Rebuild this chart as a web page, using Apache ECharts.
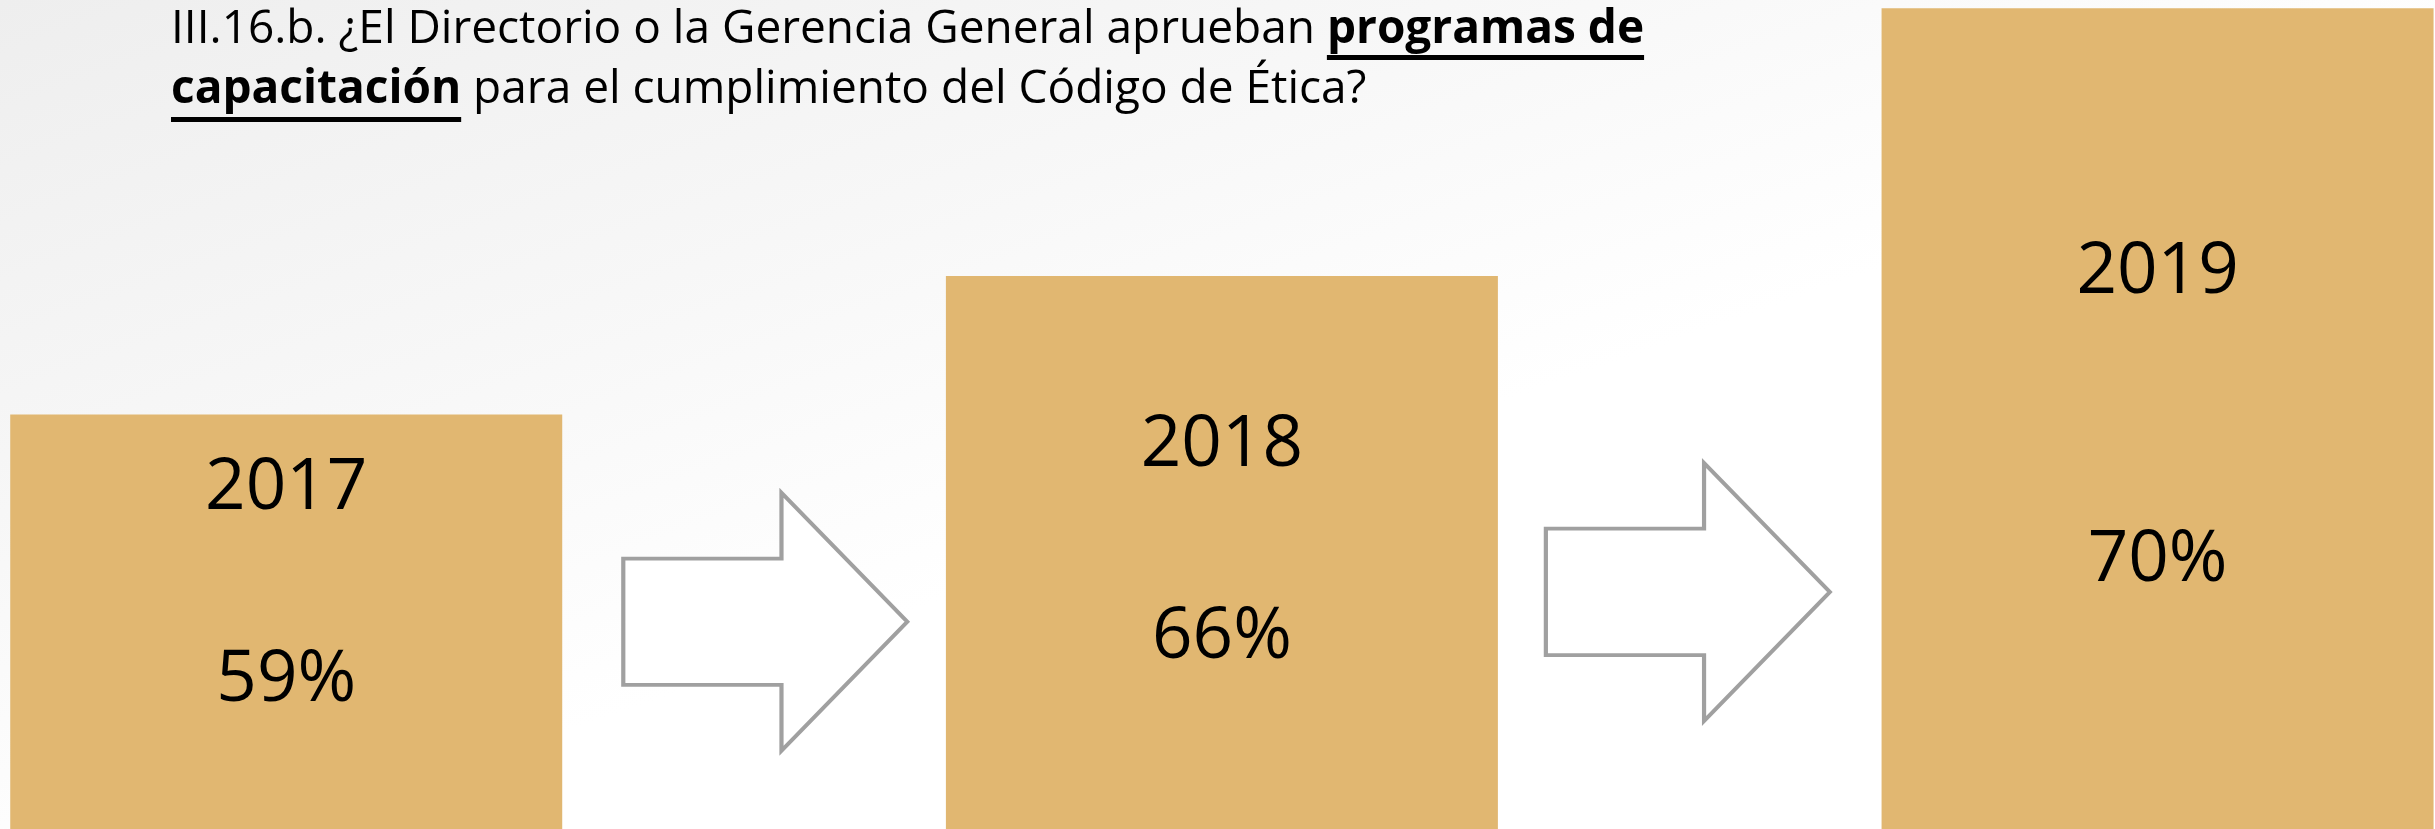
<!DOCTYPE html>
<html>
<head>
<meta charset="utf-8">
<script src="https://cdn.jsdelivr.net/npm/echarts@6/dist/echarts.min.js"></script>
<style>
  html, body { margin: 0; padding: 0; }
  #chart { width: 2435px; height: 829px; }
</style>
</head>
<body>
<div id="chart"></div>
<script>
// data
const years = ['2017', '2018', '2019']
const shares = [59, 66, 70]
// the blocks are a stepped infographic, not to scale: height of each block in % of the chart height
const stepLevels = [50, 66.7, 99]
// vertical level of the two arrows (same % scale)
const arrowLevels = [25, 28.6]

const titlePlain1 = 'III.16.b. ¿El Directorio o la Gerencia General aprueban '
const titleBold1 = 'programas de'
const titleBold2 = 'capacitación'
const titlePlain2 = ' para el cumplimiento del Código de Ética?'

// layout / style (not data)
const FONT = '"Open Sans", "Noto Sans", sans-serif'
const titleSize = 46
const titleLeft = 171
const titleLine = 60
const labelLayout = [
  { gap: 2, dy: -37 },
  { gap: 2, dy: -11 },
  { gap: 3, dy: -2 },
]
const arrowNudge = [0.012, -0.002]

const chart = echarts.init(document.getElementById('chart'))

// measure text so the underlines sit under the bold words
const ctx = document.createElement('canvas').getContext('2d')
const measure = (txt, bold) => {
  ctx.font = (bold ? 'bold ' : 'normal ') + titleSize + 'px ' + FONT
  return ctx.measureText(txt).width
}
const u1x = titleLeft + measure(titlePlain1, false)
const u1w = measure(titleBold1, true)
const u2w = measure(titleBold2, true)

const barData = stepLevels.map((v, i) => {
  const l = labelLayout[i]
  return {
    value: [i, v],
    label: {
      formatter: years[i] + '\n'.repeat(l.gap) + shares[i] + '%',
      offset: [0, l.dy],
    },
  }
})
const arrowData = arrowLevels.map((v, i) => [i + 0.5 + arrowNudge[i], v])

const arrowPath = 'path://M0,25.5 L55.7,25.5 L55.7,0 L100,50 L55.7,100 L55.7,74.5 L0,74.5 Z'

const option = {
  animation: false,
  backgroundColor: {
    type: 'linear', x: 0, y: 0, x2: 0.12, y2: 1,
    colorStops: [
      { offset: 0, color: '#eeeeee' },
      { offset: 0.55, color: '#f7f7f7' },
      { offset: 1, color: '#ffffff' },
    ],
  },
  title: {
    left: titleLeft,
    top: 0,
    padding: 0,
    text: '{n|' + titlePlain1 + '}{b|' + titleBold1 + '}\n{b|' + titleBold2 + '}{n|' + titlePlain2 + '}',
    textStyle: {
      fontWeight: 'normal',
      rich: {
        n: { fontFamily: FONT, fontSize: titleSize, fontWeight: 'normal', color: '#000', lineHeight: titleLine },
        b: { fontFamily: FONT, fontSize: titleSize, fontWeight: 'bold', color: '#000', lineHeight: titleLine },
      },
    },
  },
  graphic: [
    { type: 'rect', shape: { x: u1x, y: 55, width: u1w, height: 5 }, style: { fill: '#000' } },
    { type: 'rect', shape: { x: titleLeft, y: 117, width: u2w, height: 5 }, style: { fill: '#000' } },
  ],
  grid: { left: 0, right: 0, top: 0, bottom: 0 },
  xAxis: { type: 'value', min: -0.3059, max: 2.2965, show: false, splitLine: { show: false } },
  yAxis: { type: 'value', min: 0, max: 100, show: false, splitLine: { show: false } },
  series: [
    {
      type: 'bar',
      barWidth: 552,
      data: barData,
      itemStyle: { color: '#e1b771' },
      label: {
        show: true,
        position: 'inside',
        color: '#000',
        fontFamily: FONT,
        fontSize: 71,
        lineHeight: 96,
        align: 'center',
      },
      silent: true,
    },
    {
      type: 'scatter',
      data: arrowData,
      symbol: arrowPath,
      symbolSize: [284, 258],
      itemStyle: { color: '#ffffff', borderColor: '#a0a0a0', borderWidth: 4, opacity: 1 },
      silent: true,
    },
  ],
}
chart.setOption(option)
</script>
</body>
</html>
